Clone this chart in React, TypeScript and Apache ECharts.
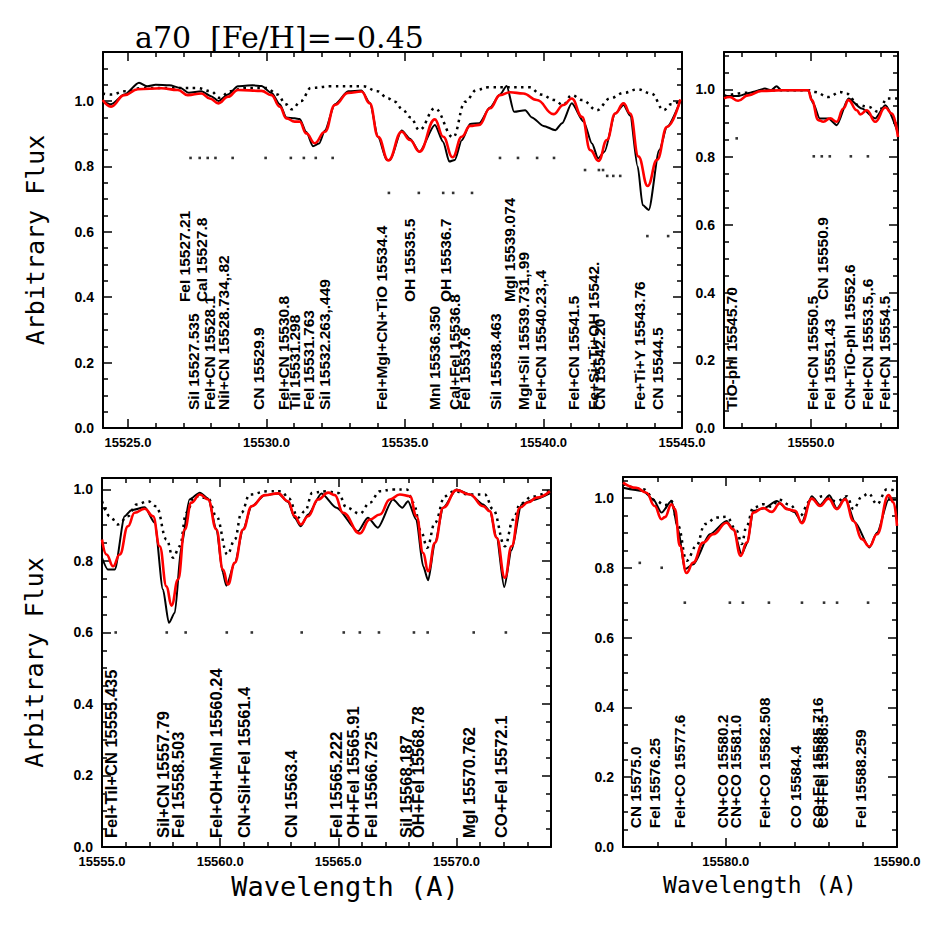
import React, { useEffect, useRef } from 'react';
import * as echarts from 'echarts';

// ---------- Panel 1 (top-left) : 15524.1 - 15545 ----------
const tlObserved: number[][] = [
  [15524.09, 1.0], [15524.39, 0.99], [15524.87, 1.02], [15525.4, 1.056], [15525.7, 1.045],
  [15526.0, 1.05], [15526.5, 1.048], [15526.9, 1.04], [15527.2, 1.025], [15527.65, 1.03],
  [15528.0, 1.015], [15528.27, 1.0], [15528.61, 1.02], [15528.97, 1.045], [15529.5, 1.048],
  [15529.82, 1.046], [15530.18, 1.025], [15530.48, 0.99], [15530.72, 0.95], [15531.02, 0.947],
  [15531.2, 0.945], [15531.44, 0.905], [15531.68, 0.862], [15531.9, 0.87], [15532.11, 0.91],
  [15532.47, 0.99], [15532.95, 1.03], [15533.43, 1.032], [15533.73, 0.995], [15534.03, 0.89],
  [15534.34, 0.82], [15534.46, 0.82], [15534.88, 0.91], [15535.18, 0.885], [15535.52, 0.845],
  [15536.08, 0.927], [15536.38, 0.875], [15536.6, 0.815], [15536.8, 0.82], [15537.05, 0.88],
  [15537.35, 0.93], [15537.68, 0.932], [15538.07, 0.98], [15538.43, 1.02], [15538.67, 1.046],
  [15538.94, 0.967], [15539.34, 0.972], [15539.58, 0.95], [15540.0, 0.924], [15540.43, 0.911],
  [15540.67, 0.932], [15541.02, 0.993], [15541.45, 0.937], [15541.75, 0.87], [15541.97, 0.825],
  [15542.2, 0.845], [15542.59, 0.962], [15542.89, 0.988], [15543.13, 0.955], [15543.4, 0.8],
  [15543.58, 0.682], [15543.8, 0.667], [15544.18, 0.85], [15544.46, 0.921], [15544.94, 1.0],
];
const tlModel: number[][] = [
  [15524.09, 1.003], [15524.39, 0.983], [15524.87, 1.018], [15525.36, 1.036], [15526.2, 1.039],
  [15526.8, 1.034], [15527.16, 1.018], [15527.65, 1.023], [15527.95, 1.008], [15528.27, 0.993],
  [15528.61, 1.013], [15528.97, 1.034], [15529.82, 1.031], [15530.18, 1.018], [15530.48, 0.983],
  [15530.72, 0.947], [15531.02, 0.937], [15531.2, 0.937], [15531.44, 0.901], [15531.74, 0.871],
  [15532.11, 0.906], [15532.47, 0.988], [15532.95, 1.025], [15533.43, 1.029], [15533.73, 0.993],
  [15534.03, 0.891], [15534.4, 0.818], [15534.88, 0.906], [15535.18, 0.881], [15535.52, 0.845],
  [15536.08, 0.944], [15536.38, 0.891], [15536.72, 0.828], [15537.05, 0.891], [15537.35, 0.924],
  [15537.68, 0.927], [15538.07, 0.978], [15538.43, 1.018], [15538.79, 1.027], [15539.27, 1.023],
  [15539.76, 1.003], [15540.36, 0.96], [15540.72, 0.988], [15541.02, 1.008], [15541.39, 0.952],
  [15541.69, 0.85], [15541.99, 0.817], [15542.29, 0.881], [15542.59, 0.962], [15542.89, 0.993],
  [15543.13, 0.962], [15543.43, 0.83], [15543.76, 0.74], [15544.1, 0.82], [15544.46, 0.921],
  [15544.94, 1.005],
];
const tlAlt: number[][] = [
  [15524.09, 1.023], [15524.4, 1.02], [15524.9, 1.03], [15525.5, 1.04], [15526.5, 1.04],
  [15527.5, 1.04], [15528.0, 1.03], [15528.3, 1.01], [15528.7, 1.03], [15529.2, 1.04],
  [15530.0, 1.04], [15530.4, 1.02], [15530.7, 0.99], [15530.92, 0.975], [15531.25, 1.0],
  [15531.6, 1.04], [15532.3, 1.045], [15533.5, 1.045], [15534.0, 1.03], [15534.39, 1.008],
  [15534.63, 0.998], [15534.93, 0.972], [15535.2, 0.95], [15535.52, 0.911], [15536.08, 0.978],
  [15536.74, 0.889], [15537.17, 0.998], [15537.59, 1.034], [15538.0, 1.042], [15539.5, 1.042],
  [15539.9, 1.02], [15540.4, 1.003], [15540.7, 0.988], [15541.02, 1.018], [15541.4, 1.003],
  [15541.93, 0.972], [15542.4, 1.008], [15542.9, 1.025], [15543.4, 1.036], [15543.9, 1.023],
  [15544.34, 0.972], [15544.6, 0.99], [15544.94, 1.0],
];
const tlMarks: number[][] = [
  [15527.26, 0.826], [15527.59, 0.826], [15527.88, 0.826], [15528.16, 0.826], [15528.78, 0.826],
  [15529.97, 0.826], [15530.88, 0.826], [15531.35, 0.826], [15531.78, 0.826], [15532.39, 0.826],
  [15534.42, 0.719], [15535.5, 0.719], [15536.38, 0.719], [15536.74, 0.719], [15537.42, 0.719],
  [15538.43, 0.826], [15539.08, 0.826], [15539.77, 0.826], [15540.38, 0.826],
  [15541.5, 0.789], [15542.0, 0.789], [15542.15, 0.789],
  [15542.3, 0.771], [15542.52, 0.771], [15542.77, 0.771],
  [15543.75, 0.587], [15544.5, 0.587],
];
const tlLowLabels: [string, number][] = [
  ['SiI 15527.535', 15527.66], ['FeI+CN 15528.1', 15528.24], ['NiI+CN 15528.734,.82', 15528.74],
  ['CN 15529.9', 15530.01], ['FeI+CN 15530.8', 15530.91], ['TiI 15531.298', 15531.31],
  ['FeI 15531.763', 15531.81], ['SiI 15532.263,.449', 15532.39], ['FeI+MgI+CN+TiO 15534.4', 15534.45],
  ['MnI 15536.350', 15536.37], ['CaI+FeI 15536.8', 15537.09], ['FeI 15537.6', 15537.45],
  ['SiI 15538.463', 15538.54], ['MgI+SiI 15539.731,.99', 15539.56], ['FeI+CN 15540.23,.4', 15540.17],
  ['FeI+CN 15541.5', 15541.39], ['Fe+Si+Ti+OH 15542.', 15542.11], ['CN 15542.20', 15542.3],
  ['Fe+Ti+Y 15543.76', 15543.74], ['CN 15544.5', 15544.4],
];
const tlHighLabels: [string, number][] = [
  ['FeI 15527.21', 15527.33], ['CaI 15527.8', 15527.95], ['OH 15535.5', 15535.47],
  ['OH 15536.7', 15536.74], ['MgI 15539.074', 15539.05],
];

// ---------- Panel 2 (top-right) : 15545 - 15555 ----------
const trObserved: number[][] = [
  [15545.0, 0.98], [15545.81, 0.98], [15546.5, 0.99], [15547.35, 1.002], [15547.7, 0.997],
  [15548.02, 1.009], [15548.3, 0.997], [15549.84, 0.997], [15550.13, 0.958], [15550.5, 0.914],
  [15551.0, 0.914], [15551.48, 0.894], [15552.15, 0.973], [15552.92, 0.943], [15553.69, 0.914],
  [15554.27, 0.953], [15555.0, 0.87],
];
const trModel: number[][] = [
  [15545.0, 0.973], [15545.33, 0.977], [15545.81, 0.966], [15546.38, 0.982], [15547.16, 0.995],
  [15548.31, 0.997], [15549.84, 0.997], [15550.04, 0.968], [15550.42, 0.909], [15550.71, 0.904],
  [15551.1, 0.914], [15551.48, 0.904], [15551.86, 0.943], [15552.15, 0.968], [15552.64, 0.938],
  [15552.83, 0.926], [15553.21, 0.938], [15553.69, 0.904], [15554.27, 0.946], [15554.65, 0.928],
  [15555.0, 0.859],
];
const trAlt: number[][] = [
  [15545.0, 0.98], [15546.38, 0.99], [15547.35, 0.997], [15549.84, 0.997], [15550.23, 0.992],
  [15551.0, 0.977], [15551.67, 0.992], [15552.05, 0.987], [15552.73, 0.953], [15553.3, 0.948],
  [15553.88, 0.933], [15554.37, 0.973], [15555.0, 0.973],
];
const trMarks: number[][] = [
  [15545.73, 0.855], [15550.16, 0.802], [15550.62, 0.802], [15551.08, 0.802], [15552.29, 0.802],
  [15553.27, 0.802],
];
const trLowLabels: [string, number][] = [
  ['TiO-phI 15545.70', 15545.91], ['FeI+CN 15550.5', 15550.52], ['FeI 15551.43', 15551.5],
  ['CN+TiO-phI 15552.6', 15552.7], ['FeI+CN 15553.5,.6', 15553.69], ['FeI+CN 15554.5', 15554.67],
];
const trHighLabels: [string, number][] = [['CN 15550.9', 15551.1]];

// ---------- Panel 3 (bottom-left) : 15555 - 15574 ----------
const blObserved: number[][] = [
  [15555.0, 0.809], [15555.25, 0.776], [15555.54, 0.776], [15555.96, 0.925], [15556.24, 0.942],
  [15556.81, 0.95], [15557.23, 0.907], [15557.58, 0.72], [15557.83, 0.627], [15558.08, 0.655],
  [15558.36, 0.841], [15558.7, 0.972], [15559.14, 0.991], [15559.49, 0.975], [15559.84, 0.89],
  [15560.1, 0.77], [15560.26, 0.731], [15560.62, 0.795], [15560.97, 0.888], [15561.33, 0.953],
  [15561.89, 0.984], [15562.45, 0.989], [15562.87, 0.965], [15563.16, 0.92], [15563.41, 0.897],
  [15563.72, 0.93], [15564.29, 0.989], [15564.92, 0.949], [15565.83, 0.883], [15566.25, 0.921],
  [15566.67, 0.893], [15567.31, 0.972], [15567.71, 0.949], [15567.95, 0.967], [15568.3, 0.915],
  [15568.59, 0.785], [15568.8, 0.746], [15569.09, 0.851], [15569.44, 0.949], [15570.0, 1.0],
  [15570.57, 0.986], [15571.13, 0.958], [15571.41, 0.94], [15571.7, 0.865], [15572.02, 0.727],
  [15572.33, 0.83], [15572.75, 0.958], [15573.2, 0.97], [15573.95, 0.989],
];
const blModel: number[][] = [
  [15555.0, 0.86], [15555.19, 0.818], [15555.47, 0.785], [15555.75, 0.818], [15556.1, 0.897],
  [15556.38, 0.935], [15556.81, 0.946], [15557.16, 0.925], [15557.44, 0.841], [15557.73, 0.729],
  [15557.94, 0.675], [15558.22, 0.748], [15558.5, 0.888], [15558.78, 0.963], [15559.14, 0.986],
  [15559.49, 0.972], [15559.84, 0.888], [15560.12, 0.776], [15560.33, 0.734], [15560.62, 0.795],
  [15560.97, 0.888], [15561.33, 0.953], [15561.89, 0.984], [15562.45, 0.989], [15562.87, 0.967],
  [15563.16, 0.925], [15563.41, 0.902], [15563.72, 0.925], [15564.14, 0.972], [15564.57, 0.991],
  [15564.85, 0.984], [15565.2, 0.935], [15565.91, 0.877], [15566.33, 0.916], [15566.76, 0.93],
  [15567.18, 0.972], [15567.6, 0.986], [15568.03, 0.981], [15568.31, 0.925], [15568.59, 0.823],
  [15568.8, 0.771], [15569.09, 0.851], [15569.44, 0.949], [15570.0, 0.998], [15570.57, 0.986],
  [15571.13, 0.953], [15571.41, 0.939], [15571.7, 0.865], [15572.05, 0.753], [15572.33, 0.841],
  [15572.68, 0.949], [15573.04, 0.964], [15573.39, 0.977], [15573.95, 0.995],
];
const blAlt: number[][] = [
  [15555.0, 0.967], [15555.33, 0.925], [15555.68, 0.902], [15556.1, 0.925], [15556.46, 0.958],
  [15556.95, 0.967], [15557.3, 0.953], [15557.73, 0.86], [15558.01, 0.809], [15558.29, 0.841],
  [15558.57, 0.935], [15558.92, 0.981], [15559.49, 0.975], [15559.84, 0.925], [15560.31, 0.818],
  [15560.62, 0.86], [15560.9, 0.935], [15561.25, 0.986], [15562.0, 0.995], [15562.6, 0.995],
  [15562.9, 0.975], [15563.3, 0.921], [15563.6, 0.94], [15563.9, 0.991], [15564.5, 0.995],
  [15565.0, 0.99], [15565.35, 0.949], [15565.91, 0.932], [15566.33, 0.963], [15566.76, 0.995],
  [15567.3, 1.0], [15567.9, 1.0], [15568.17, 0.963], [15568.52, 0.879], [15568.76, 0.837],
  [15569.09, 0.907], [15569.51, 0.981], [15569.9, 0.995], [15570.5, 0.986], [15571.2, 0.986],
  [15571.55, 0.944], [15572.05, 0.841], [15572.4, 0.916], [15572.7, 0.96], [15573.2, 0.98],
  [15573.95, 0.998],
];
const blMarks: number[][] = [
  [15555.58, 0.6], [15557.74, 0.6], [15558.54, 0.6], [15560.28, 0.6], [15561.34, 0.6],
  [15563.45, 0.6], [15565.23, 0.6], [15565.91, 0.6], [15566.72, 0.6], [15568.2, 0.6],
  [15568.78, 0.6], [15570.73, 0.6], [15572.09, 0.6],
];
const blLowLabels: [string, number][] = [
  ['FeI+TiI+CN 15555.435', 15555.75], ['SiI+CN 15557.79', 15557.95], ['FeI 15558.503', 15558.59],
  ['FeI+OH+MnI 15560.24', 15560.19], ['CN+SiI+FeI 15561.4', 15561.38], ['CN 15563.4', 15563.37],
  ['FeI 15565.222', 15565.28], ['OH+FeI 15565.91', 15566.0], ['FeI 15566.725', 15566.76],
  ['SiI 15568.187', 15568.24], ['OH+FeI 15568.78', 15568.75], ['MgI 15570.762', 15570.87],
  ['CO+FeI 15572.1', 15572.26],
];

// ---------- Panel 4 (bottom-right) : 15574 - 15590 ----------
const brObserved: number[][] = [
  [15574.0, 1.029], [15575.17, 1.02], [15575.76, 0.996], [15576.25, 0.958], [15576.83, 0.991],
  [15577.22, 0.91], [15577.61, 0.796], [15578.1, 0.81], [15579.07, 0.896], [15580.05, 0.934],
  [15580.44, 0.91], [15580.93, 0.839], [15581.25, 0.87], [15581.61, 0.963], [15582.2, 0.97],
  [15582.98, 0.991], [15583.56, 0.97], [15584.0, 0.96], [15584.44, 0.93], [15585.02, 1.005],
  [15585.51, 0.98], [15586.05, 1.008], [15586.49, 0.97], [15586.97, 1.0], [15587.56, 0.929],
  [15588.39, 0.858], [15588.83, 0.9], [15589.51, 0.995], [15590.0, 0.995],
];
const brModel: number[][] = [
  [15574.0, 1.044], [15574.78, 1.029], [15575.37, 1.015], [15575.85, 0.977], [15576.25, 0.939],
  [15576.45, 0.945], [15576.83, 0.982], [15577.03, 0.968], [15577.32, 0.863], [15577.71, 0.785],
  [15578.1, 0.815], [15578.68, 0.872], [15579.27, 0.896], [15580.05, 0.929], [15580.44, 0.91],
  [15580.87, 0.834], [15581.22, 0.872], [15581.61, 0.958], [15582.19, 0.971], [15582.68, 0.96],
  [15583.17, 0.985], [15583.56, 0.968], [15584.05, 0.963], [15584.44, 0.928], [15585.02, 0.998],
  [15585.51, 0.977], [15586.0, 0.998], [15586.49, 0.968], [15586.97, 0.996], [15587.46, 0.934],
  [15587.95, 0.882], [15588.39, 0.861], [15588.83, 0.896], [15589.51, 1.008], [15589.8, 0.987],
  [15590.0, 0.92],
];
const brAlt: number[][] = [
  [15574.0, 1.04], [15575.17, 1.025], [15575.95, 0.991], [15576.44, 0.979], [15576.83, 0.991],
  [15577.22, 0.92], [15577.71, 0.82], [15578.29, 0.863], [15578.78, 0.925], [15579.47, 0.944],
  [15580.05, 0.946], [15580.64, 0.906], [15580.93, 0.868], [15581.22, 0.92], [15581.61, 0.972],
  [15582.19, 0.982], [15582.68, 0.975], [15583.1, 0.995], [15583.75, 0.98], [15584.34, 0.949],
  [15584.9, 0.99], [15585.7, 1.005], [15586.49, 0.99], [15587.07, 1.005], [15587.46, 0.968],
  [15587.95, 1.004], [15588.34, 1.013], [15588.83, 0.982], [15589.41, 1.025], [15590.0, 1.02],
];
const brMarks: number[][] = [
  [15574.98, 0.814], [15576.26, 0.8], [15577.61, 0.7], [15580.24, 0.7], [15581.0, 0.7],
  [15582.52, 0.7], [15584.45, 0.7], [15585.74, 0.7], [15586.5, 0.7], [15588.31, 0.7],
];
const brLowLabels: [string, number][] = [
  ['CN 15575.0', 15575.15], ['FeI 15576.25', 15576.26], ['FeI+CO 15577.6', 15577.73],
  ['CN+CO 15580.2', 15580.24], ['CN+CO 15581.0', 15581.0], ['FeI+CO 15582.508', 15582.7],
  ['CO 15584.4', 15584.51], ['CO+FeI 15585.716', 15585.8], ['CO+FeI 15586.5', 15586.1],
  ['FeI 15588.259', 15588.31],
];

const TITLE = 'a70  [Fe/H]=\u22120.45';
const Y_TITLE = 'Arbitrary Flux';
const X_TITLE = 'Wavelength (A)';

const isMultiple = (v: number, step: number) => Math.abs(v / step - Math.round(v / step)) < 1e-6;
const frameLine = { show: true, onZero: false, lineStyle: { color: '#000', width: 2 } };
const tickStyle = { color: '#000', width: 1.5 };
const monoTitle = { fontFamily: 'DejaVu Sans Mono', color: '#000' };

function makeX(grid: number, min: number, max: number, split: number, labelEvery: number,
  xname?: string, pad?: number, nameSize?: number) {
  const base: any = {
    type: 'value', gridIndex: grid, min, max, splitNumber: split,
    axisLine: frameLine,
    axisTick: { show: true, inside: true, length: 9, lineStyle: tickStyle },
    minorTick: { show: true, splitNumber: 5, length: 5, lineStyle: tickStyle },
    splitLine: { show: false }, minorSplitLine: { show: false },
  };
  return [
    {
      ...base, position: 'bottom',
      axisLabel: {
        show: true, margin: 8, color: '#000', fontFamily: 'Liberation Sans', fontWeight: 'bold', fontSize: 13,
        formatter: (v: number) => (isMultiple(v, labelEvery) ? v.toFixed(1) : ''),
      },
      name: xname, nameLocation: 'middle', nameGap: 26,
      nameTextStyle: { ...monoTitle, fontSize: nameSize || 24, padding: [0, 0, 0, pad || 0] },
    },
    { ...base, position: 'top', axisLabel: { show: false } },
  ];
}

function makeY(grid: number, max: number, yname?: string) {
  const base: any = {
    type: 'value', gridIndex: grid, min: 0, max, interval: 0.2,
    axisLine: frameLine,
    axisTick: { show: true, inside: true, length: 9, lineStyle: tickStyle },
    minorTick: { show: true, splitNumber: 4, length: 5, lineStyle: tickStyle },
    splitLine: { show: false }, minorSplitLine: { show: false },
  };
  return [
    {
      ...base, position: 'left',
      axisLabel: {
        show: true, margin: 9, color: '#000', fontFamily: 'Liberation Sans', fontWeight: 'bold', fontSize: 14,
        formatter: (v: number) => (isMultiple(v, 0.2) ? v.toFixed(1) : ''),
      },
      name: yname, nameLocation: 'middle', nameGap: 55, nameTextStyle: { ...monoTitle, fontSize: 25 },
    },
    { ...base, position: 'right', axisLabel: { show: false } },
  ];
}

function panelSeries(p: number, obs: number[][], model: number[][], alt: number[][], marks: number[][],
  low: [string, number][], lowLevel: number, high: [string, number][], highLevel: number, fontSize: number) {
  const ax = { xAxisIndex: 2 * p, yAxisIndex: 2 * p };
  const labels = [...low.map((l) => ({ t: l[0], v: [l[1], lowLevel] })), ...high.map((l) => ({ t: l[0], v: [l[1], highLevel] }))];
  return [
    {
      type: 'line', ...ax, data: alt, showSymbol: false, symbol: 'none', smooth: 0.4, smoothMonotone: 'x',
      lineStyle: { color: '#000', width: 2.5, type: [2.5, 4.5] }, z: 2, silent: true,
    },
    {
      type: 'line', ...ax, data: obs, showSymbol: false, symbol: 'none', smooth: 0.25, smoothMonotone: 'x',
      lineStyle: { color: '#000', width: 2 }, z: 3, silent: true,
    },
    {
      type: 'line', ...ax, data: model, showSymbol: false, symbol: 'none', smooth: 0.45, smoothMonotone: 'x',
      lineStyle: { color: '#ff0000', width: 2.6 }, z: 4, silent: true,
    },
    {
      type: 'scatter', ...ax, data: marks, symbol: 'rect', symbolSize: 2.6,
      itemStyle: { color: '#000' }, z: 5, silent: true,
    },
    {
      type: 'custom', ...ax, data: labels.map((l) => l.v), silent: true, z: 6,
      encode: { x: 0, y: 1 },
      renderItem: (params: any, api: any) => {
        const pt = api.coord([api.value(0), api.value(1)]);
        return {
          type: 'text', x: pt[0], y: pt[1], rotation: Math.PI / 2,
          style: {
            text: labels[params.dataIndex].t, fill: '#000', fontFamily: 'Liberation Sans',
            fontWeight: 'bold', fontSize, align: 'left', verticalAlign: 'bottom',
          },
        };
      },
    },
  ];
}

export default function App() {
  const ref = useRef<HTMLDivElement>(null);
  useEffect(() => {
    if (!ref.current) return;
    const chart = echarts.init(ref.current, undefined, { renderer: 'svg' });
    const option: any = {
      animation: false,
      backgroundColor: '#fff',
      title: {
        text: TITLE, left: 130, top: 17,
        textStyle: { fontFamily: 'DejaVu Serif', fontSize: 30, fontWeight: 'normal', color: '#000' },
      },
      grid: [
        { left: 103, top: 52, width: 579, height: 376 },
        { left: 724, top: 52, width: 174, height: 376 },
        { left: 102, top: 478, width: 449, height: 369 },
        { left: 623, top: 477, width: 274, height: 370 },
      ],
      xAxis: [
        ...makeX(0, 15524.1, 15545, 4, 5),
        ...makeX(1, 15545, 15555, 1, 10),
        ...makeX(2, 15555, 15574, 4, 5, X_TITLE, 37, 27),
        ...makeX(3, 15574, 15590, 2, 10, X_TITLE, 0, 23),
      ],
      yAxis: [
        ...makeY(0, 1.15, Y_TITLE),
        ...makeY(1, 1.11),
        ...makeY(2, 1.032, Y_TITLE),
        ...makeY(3, 1.06),
      ],
      series: [
        ...panelSeries(0, tlObserved, tlModel, tlAlt, tlMarks, tlLowLabels, 0.055, tlHighLabels, 0.385, 15.5),
        ...panelSeries(1, trObserved, trModel, trAlt, trMarks, trLowLabels, 0.053, trHighLabels, 0.378, 15.5),
        ...panelSeries(2, blObserved, blModel, blAlt, blMarks, blLowLabels, 0.025, [], 0, 16.5),
        ...panelSeries(3, brObserved, brModel, brAlt, brMarks, brLowLabels, 0.054, [], 0, 15.3),
      ],
    };
    chart.setOption(option);
    return () => chart.dispose();
  }, []);
  return <div ref={ref} style={{ position: 'absolute', left: 0, top: 0, width: 948, height: 948, background: '#fff' }} />;
}
